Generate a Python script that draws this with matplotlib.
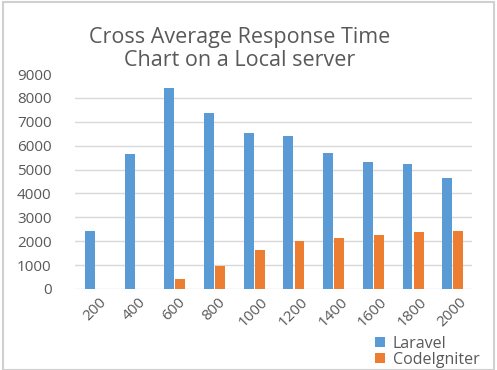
import numpy as np
import matplotlib
matplotlib.use('Agg')
from matplotlib import pyplot as plt
from matplotlib.patches import Rectangle

# data
categories = ['200', '400', '600', '800', '1000', '1200', '1400', '1600', '1800', '2000']
laravel = [2430, 5650, 8400, 7370, 6540, 6400, 5690, 5310, 5230, 4640]
codeigniter = [0, 0, 420, 960, 1630, 2010, 2130, 2260, 2380, 2430]
yticks = [0, 1000, 2000, 3000, 4000, 5000, 6000, 7000, 8000, 9000]

plt.rcParams['font.family'] = ['Open Sans', 'DejaVu Sans']
text_c = '#595959'

fig = plt.figure(figsize=(4.97, 3.70), dpi=100)
W, H = 497, 370
ax = fig.add_axes([75 / W, 1 - 289 / H, (472 - 75) / W, (289 - 74) / H])

x = np.arange(len(categories))
w = 0.25
ax.bar(x - 0.125, laravel, w, color='#5B9BD5', label='Laravel', zorder=3)
ax.bar(x + 0.155, codeigniter, w, color='#ED7D31', label='CodeIgniter', zorder=3)

ax.set_xlim(-0.5, len(categories) - 0.5)
ax.set_ylim(0, 9000)
ax.set_yticks(yticks)
ax.set_yticklabels([str(v) for v in yticks], color=text_c, fontsize=11)
ax.set_xticks(x)
ax.set_xticklabels(categories, rotation=45, color=text_c, fontsize=11,
                   ha='center', va='top', rotation_mode='default')
ax.tick_params(length=0, pad=4)
ax.tick_params(axis='y', pad=17)

for v in yticks[:-1]:
    ax.axhline(v, color='#D9D9D9', lw=1, zorder=1)
for s in ax.spines.values():
    s.set_visible(False)

fig.text(240 / W, 1 - 38 / H, 'Cross Average Response Time', ha='center', va='center',
         fontsize=15.5, color=text_c)
fig.text(240 / W, 1 - 61 / H, 'Chart on a Local server', ha='center', va='center',
         fontsize=15.5, color=text_c)

fig.legend(loc='upper left', bbox_to_anchor=(367 / W, 1 - 328 / H), frameon=False,
           fontsize=11.5, labelcolor=text_c, handlelength=0.6, handleheight=0.6,
           handletextpad=0.5, labelspacing=0.0, borderpad=0)

fig.add_artist(Rectangle((3 / W, 0), 491 / W, 1 - 1.5 / H, transform=fig.transFigure,
                         fill=False, edgecolor='#D0D0D0', lw=1.5))

plt.savefig('out.png', dpi=100)
plt.close()
